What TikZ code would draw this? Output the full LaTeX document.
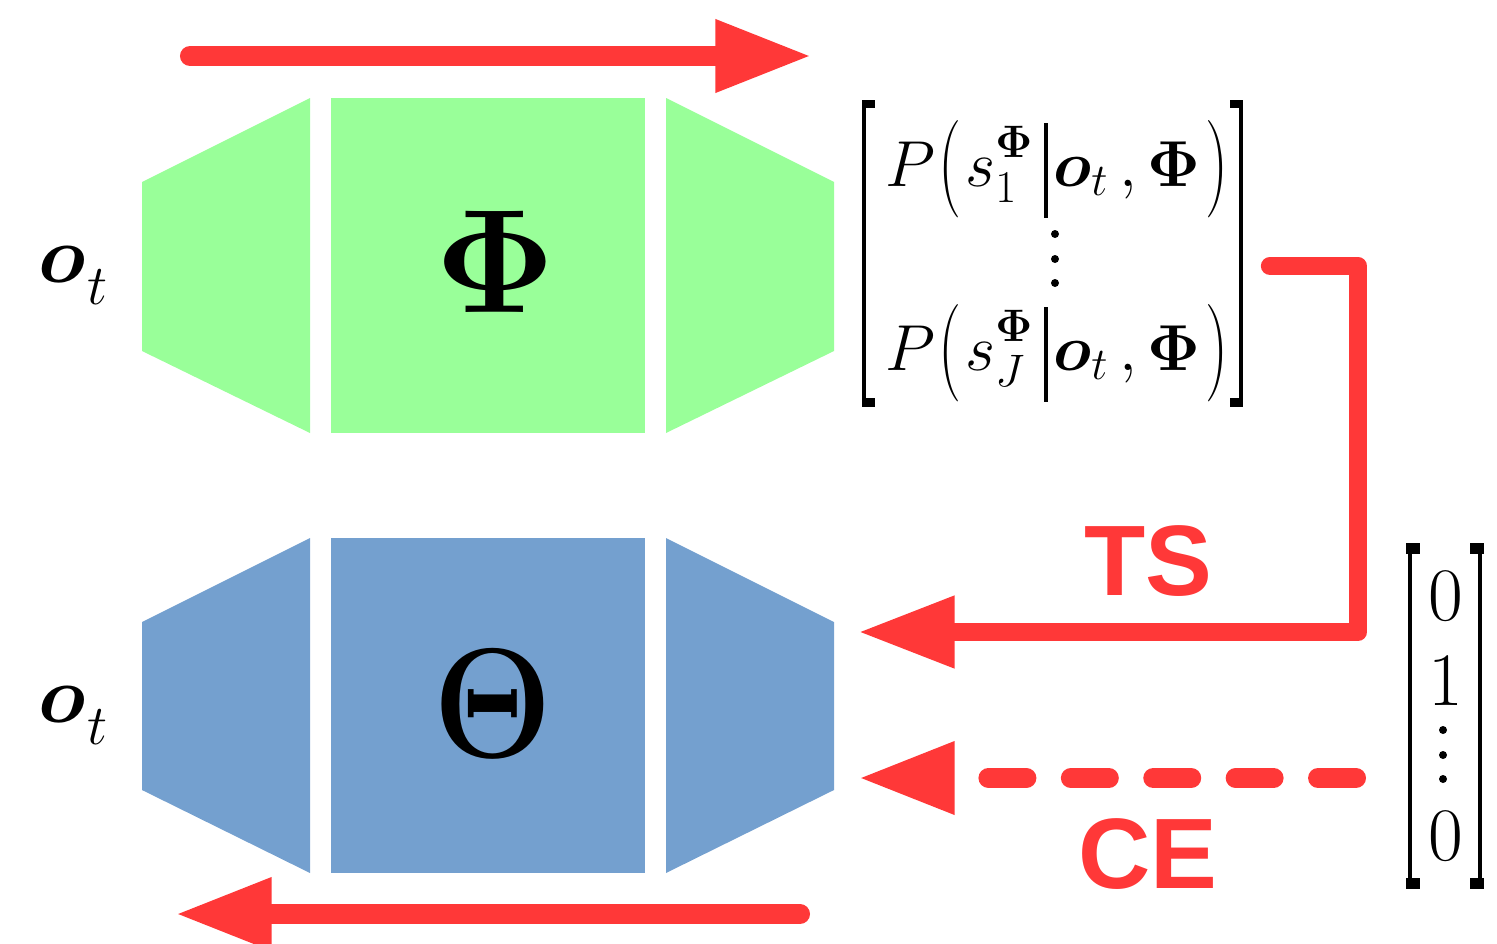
\RequirePackage{fix-cm}
\documentclass[tikz,border=0pt]{standalone}
\usepackage{amsmath}
\usepackage{bm}
\usepackage{graphicx}
\usepackage{fontspec}
\newfontfamily\labelfont{Liberation Sans}
\usetikzlibrary{arrows.meta}

\definecolor{phigreen}{RGB}{153,255,153}
\definecolor{thetablue}{RGB}{116,160,207}
\definecolor{flowred}{RGB}{255,56,56}

% tall thin delimiters for the posterior rows
\newcommand{\tallopen}{\raisebox{-4pt}{\scalebox{1}[1.5]{$($}}}
\newcommand{\tallclose}{\raisebox{-4pt}{\scalebox{1}[1.5]{$)$}}}
\newcommand{\tallbar}{\raisebox{-18pt}{\rule{2.2pt}{54pt}}}
\newcommand{\postrow}[1]{$P\mkern1mu\tallopen\mkern1mu s_{#1}^{\raisebox{3pt}{$\scriptstyle\bm{\Phi}$}}\mkern3mu\tallbar\mkern1.5mu
  \bm{o}_{t}\,,\bm{\Phi}\mkern1.5mu\tallclose$}

\begin{document}
\begin{tikzpicture}[x=0.02cm,y=-0.02cm,
  core/.style={minimum width=6.28cm,minimum height=6.7cm,inner sep=0pt},
  corelabel/.style={font=\fontsize{84}{90}\selectfont,inner sep=0pt},
  flow/.style={draw=flowred,line width=11.4pt,line cap=round,line join=round,
               -{Triangle[length=55pt,width=38.5pt]}},
  dashflow/.style={flow,dash pattern=on 21.6pt off 25.3pt},
  inlabel/.style={font=\fontsize{46}{52}\selectfont,inner sep=0pt,anchor=base west},
  rowtxt/.style={font=\fontsize{37}{46}\selectfont,inner sep=0pt,anchor=base west},
  vectxt/.style={font=\fontsize{43}{48}\selectfont,inner sep=0pt},
  losslabel/.style={font=\labelfont\bfseries\fontsize{57}{60}\selectfont,
                    text=flowred,inner sep=0pt},
  brk/.style={line width=2pt},
]
\useasboundingbox (0,0) rectangle (1497,943);

% ---- network Phi (top) ----
\node[core,fill=phigreen] (phi) at (488,265.5) {};
\fill[phigreen] (142,182) -- (310,98) -- (310,433) -- (142,351) -- cycle;
\fill[phigreen] (666,98) -- (834,182) -- (834,351) -- (666,433) -- cycle;
\node[corelabel] (philabel) at (495,262) {$\bm{\Phi}$};

% ---- network Theta (bottom) ----
\node[core,fill=thetablue] (theta) at (488,705.5) {};
\fill[thetablue] (142,622) -- (310,538) -- (310,873) -- (142,790) -- cycle;
\fill[thetablue] (666,538) -- (834,622) -- (834,790) -- (666,873) -- cycle;
\node[corelabel] (thetalabel) at (493,704) {\scalebox{0.92}[1.06]{$\bm{\Theta}$}};

% ---- inputs ----
\node[inlabel] (inphi) at (38,282)
  {$\bm{o}\mkern0.5mu\lower13pt\hbox{$\scriptstyle t$}$};
\node[inlabel] (intheta) at (38,722)
  {$\bm{o}\mkern0.5mu\lower13pt\hbox{$\scriptstyle t$}$};

% ---- forward / backward arrows ----
\coordinate (fwdA) at (190,56);
\coordinate (fwdB) at (812,56);
\draw[flow] (fwdA) -- (fwdB);
\coordinate (bwdA) at (800,914);
\coordinate (bwdB) at (175,914);
\draw[flow] (bwdA) -- (bwdB);

% ---- posterior vector of Phi ----
\node[rowtxt] (row1) at (885,186) {\postrow{1}};
\node[rowtxt] (rowJ) at (885,370) {\postrow{J}};
\foreach \yy in {234,259,283} \fill (1055,\yy) circle (4);
\draw[brk] (864,102) -- (864,405);
\fill (862,100) rectangle (875,108);
\fill (862,398) rectangle (875,407);
\draw[brk] (1241,102) -- (1241,405);
\fill (1230,100) rectangle (1243,108);
\fill (1230,398) rectangle (1243,407);

% ---- one-hot target ----
\node[vectxt] (v0) at (1446,596) {$0$};
\node[vectxt] (v1) at (1446,681) {$1$};
\node[vectxt] (vn) at (1446,836) {$0$};
\foreach \yy in {730,755,779} \fill (1443,\yy) circle (4);
\draw[brk] (1410,545) -- (1410,887);
\fill (1406,543) rectangle (1420,554);
\fill (1406,878) rectangle (1420,889);
\draw[brk] (1480,545) -- (1480,887);
\fill (1470,543) rectangle (1484,554);
\fill (1470,878) rectangle (1484,889);

% ---- TS path (teacher soft targets) ----
\coordinate (tsA) at (1270,266);
\coordinate (tsB) at (1358,632);
\coordinate (tsC) at (858,632);
\draw[flow,line width=10.4pt] (tsA) -| (tsB) -- (tsC);
\node[losslabel] (ts) at (1148,561) {TS};

% ---- CE path (hard targets) ----
\coordinate (ceA) at (1356,778);
\coordinate (ceB) at (858,778);
\draw[dashflow] (ceA) -- (ceB);
\node[losslabel] (ce) at (1148,854) {CE};
\end{tikzpicture}
\end{document}
